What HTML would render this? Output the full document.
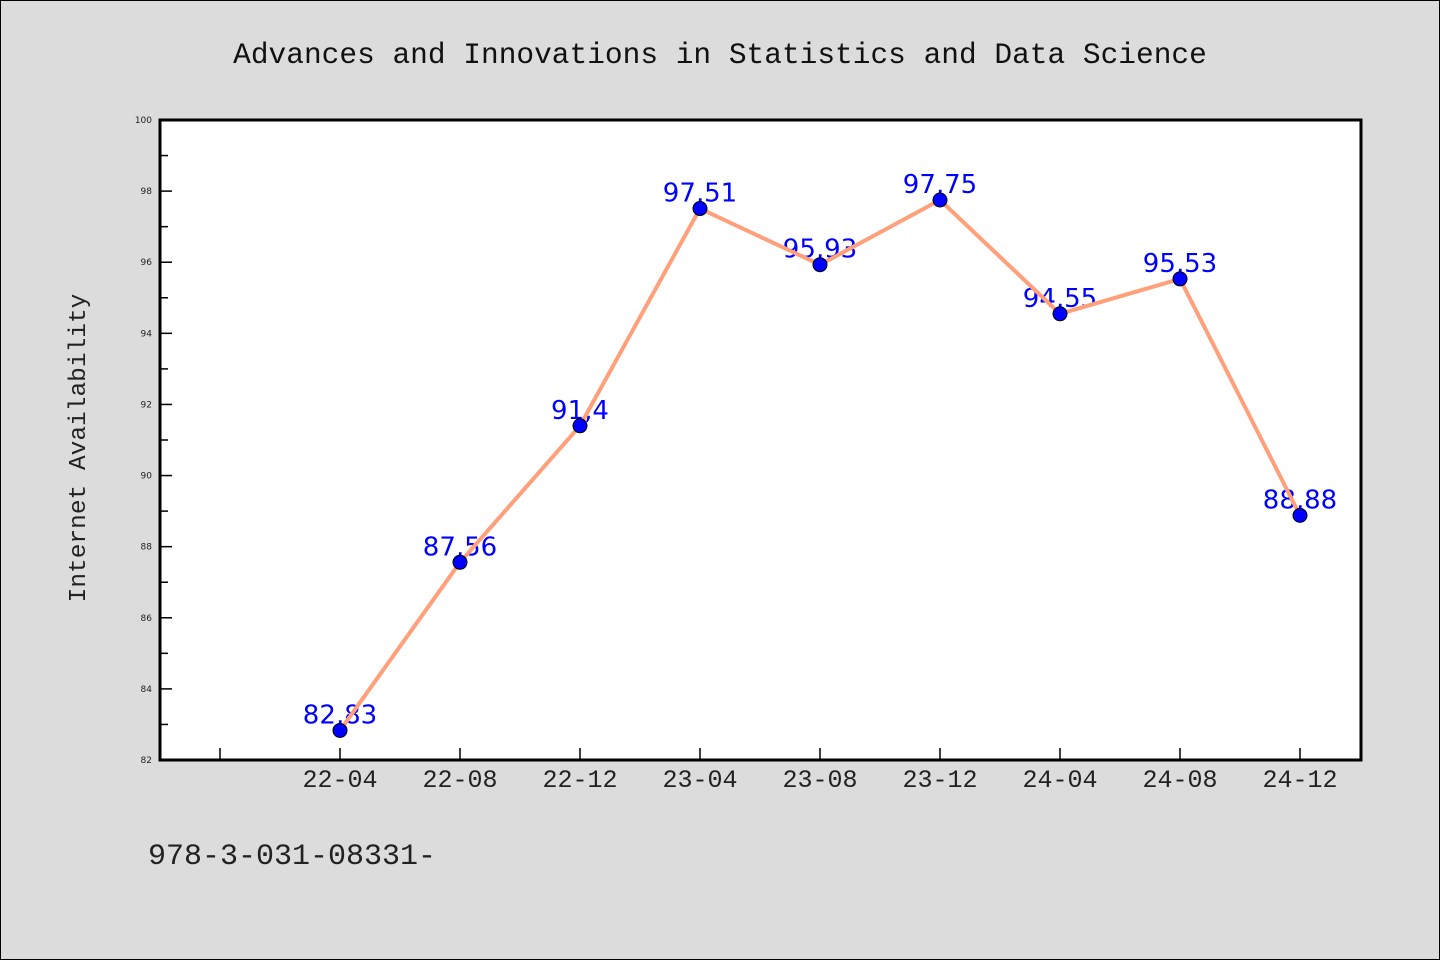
<!DOCTYPE html>
<html><head><meta charset="utf-8"><style>
body{margin:0;background:#dcdcdc;}
svg{display:block;font-family:"Liberation Mono","DejaVu Sans Mono",monospace;}
</style></head><body>
<svg id="chart" width="1440" height="960">
<rect x="0.5" y="0.5" width="1439" height="959" fill="#dcdcdc" stroke="#000"/>
<text x="720" y="63" text-anchor="middle" font-size="29.5" fill="#111">Advances and Innovations in Statistics and Data Science</text>
<rect x="160" y="120" width="1201" height="640" fill="#fff"/>
<g id="grid"></g>
<text transform="translate(85,448) rotate(-90)" text-anchor="middle" font-size="24.5" fill="#222">Internet Availability</text>
<text x="148" y="864" font-size="30" fill="#222">978-3-031-08331-</text>
<g id="labels"></g>
<g id="series"></g>
<rect x="160" y="120" width="1201" height="640" fill="none" stroke="#000" stroke-width="3"/>
</svg>
<script>
const categories=["22-04","22-08","22-12","23-04","23-08","23-12","24-04","24-08","24-12"];
const values=[82.83,87.56,91.4,97.51,95.93,97.75,94.55,95.53,88.88];
const labelsText=["82,83","87,56","91,4","97,51","95,93","97,75","94,55","95,53","88,88"];
const yTicks=[82,84,86,88,90,92,94,96,98,100];
const yMin=82,yMax=100,plotTop=120,plotBot=760;
const y=v=>plotBot-(v-yMin)/(yMax-yMin)*(plotBot-plotTop);
const x=i=>340+i*120;
const NS="http://www.w3.org/2000/svg";
const mk=(t,a,p)=>{const e=document.createElementNS(NS,t);for(const k in a)e.setAttribute(k,a[k]);p.appendChild(e);return e;};
const g=document.getElementById('grid'),lg=document.getElementById('labels'),sg=document.getElementById('series');
yTicks.forEach((t,i)=>{
 const l=mk('line',{x1:160,x2:172,y1:y(t),y2:y(t),stroke:'#000','stroke-width':1.5},g);
 
 
 const tx=mk('text',{x:152,y:y(t)+3,'text-anchor':'end','font-size':9,fill:'#222','font-family':'DejaVu Sans, sans-serif'},g);
 tx.textContent=t;
 
 
 if(i<yTicks.length-1){
  const m=mk('line',{x1:160,x2:168,y1:y(t+1),y2:y(t+1),stroke:'#000','stroke-width':1.5},g);
  
  
 }
});
for(let i=-1;i<categories.length;i++){
 const l=mk('line',{x1:x(i),x2:x(i),y1:748,y2:760,stroke:'#000','stroke-width':1.5},g);
 
 
}
categories.forEach((c,i)=>{
 const t=mk('text',{x:x(i),y:787,'text-anchor':'middle','font-size':25,fill:'#222'},g);
 t.textContent=c;
 
 
});
const pl=mk('polyline',{points:values.map((v,i)=>x(i)+','+y(v)).join(' '),fill:'none',stroke:'#ffa07a','stroke-width':4,'stroke-linejoin':'round'},sg);


values.forEach((v,i)=>{
 const t=mk('text',{x:x(i),y:y(v)-7,'text-anchor':'middle','font-size':26,fill:'#0000ff','font-family':'DejaVu Sans, sans-serif'},lg);
 t.textContent=labelsText[i];
 
 
 const c=mk('circle',{cx:x(i),cy:y(v),r:7,fill:'#0000ff',stroke:'#000','stroke-width':1},sg);
 
 
});
</script>
</body></html>
